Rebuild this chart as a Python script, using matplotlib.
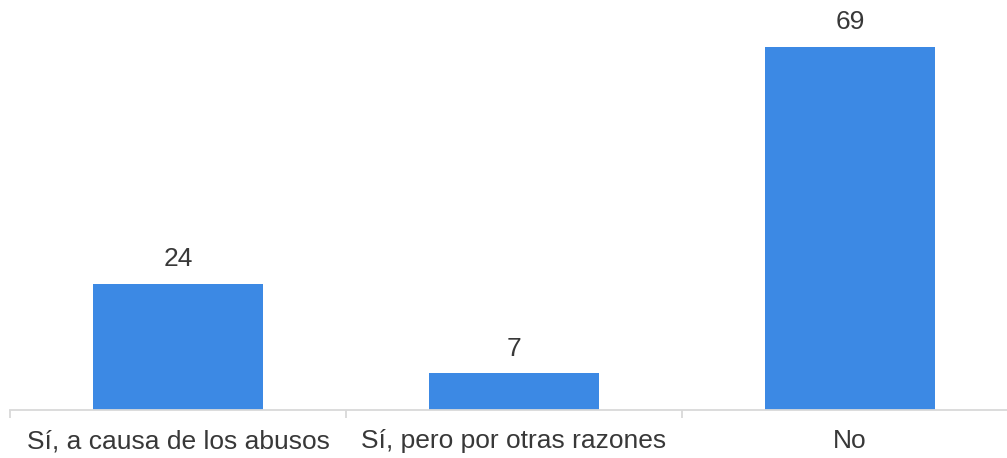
import matplotlib.pyplot as plt

categories = ["Sí, a causa de los abusos", "Sí, pero por otras razones", "No"]
values = [24, 7, 69]

bar_color = '#3C89E4'
text_color = '#383838'
axis_color = '#D9D9D9'

plt.rcParams['font.family'] = ['Liberation Sans', 'DejaVu Sans']

W, H = 1007, 458
fig = plt.figure(figsize=[W / 100, H / 100], dpi=100)
ax = fig.add_axes([10 / W, 48 / H, 1008 / W, 410 / H])

x = range(len(categories))
bars = ax.bar(x, values, width=0.503, color=bar_color)
for b, v in zip(bars, values):
    ax.annotate(str(v), (b.get_x() + b.get_width() / 2, v), xytext=(0, 9),
                textcoords='offset points', ha='center', va='bottom',
                fontsize=19, color=text_color)

ax.set_xlim(-0.5, len(categories) - 0.5)
ax.set_ylim(0, 77.9)
ax.set_yticks([])
ax.set_xticks(list(x))
ax.set_xticklabels(categories, fontsize=19, color=text_color)
ax.tick_params(axis='x', which='major', length=0, pad=14)
ax.set_xticks([i - 0.5 for i in range(len(categories) + 1)], minor=True)
ax.tick_params(axis='x', which='minor', length=6, width=1.3, color=axis_color)

for s in ['top', 'right', 'left']:
    ax.spines[s].set_visible(False)
ax.spines['bottom'].set_color(axis_color)
ax.spines['bottom'].set_linewidth(1.3)

fig.savefig("out.png", dpi=100)
